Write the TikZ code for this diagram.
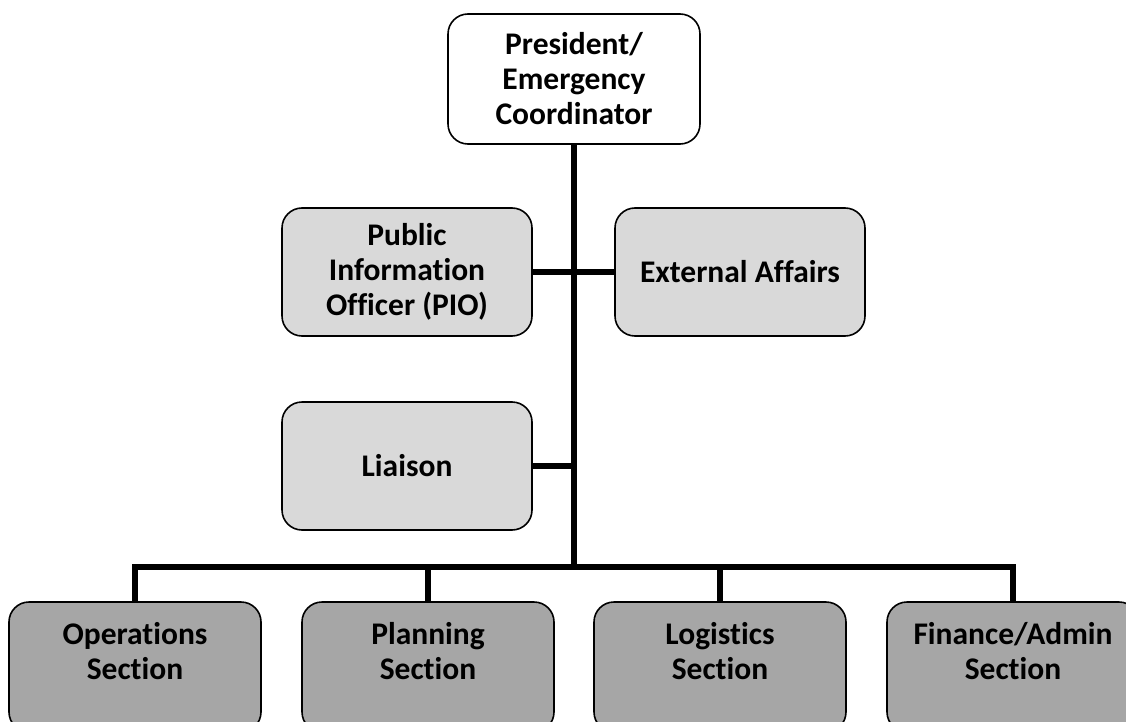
\documentclass[tikz,border=0pt]{standalone}
\usepackage{fontspec}
\setmainfont{Carlito}[Ligatures={NoCommon}]
\begin{document}
\begin{tikzpicture}[x=1pt,y=-1pt,
  box/.style={draw=black, line width=1.6pt, rounded corners=20pt, align=center,
    font=\bfseries\fontsize{31.5}{35}\selectfont, inner sep=0pt},
  topbox/.style={box, fill=white, minimum width=252pt, minimum height=130pt},
  midbox/.style={box, fill=gray!30, minimum width=250pt, minimum height=128pt},
  lowbox/.style={box, fill=gray!70, minimum width=252pt, minimum height=130pt, text depth=33pt},
  conn/.style={draw=black, line width=6pt, line join=miter}]
\useasboundingbox (0,0) rectangle (1126,722);
\node[topbox] (top) at (574,79) {President/\\Emergency\\Coordinator};
\node[midbox] (pio) at (407,272) {Public\\Information\\Officer (PIO)};
\node[midbox] (ext) at (740,272) {External Affairs};
\node[midbox] (lia) at (407,466) {Liaison};
\node[lowbox] (ops) at (135,667) {Operations\\Section};
\node[lowbox] (pla) at (428,667) {Planning\\Section};
\node[lowbox] (log) at (720,667) {Logistics\\Section};
\node[lowbox] (fin) at (1013,667) {Finance/Admin\\Section};
\coordinate (bar) at (574,567);
\draw[conn] (top.south) -- (bar);
\draw[conn] (pio.east) -- (ext.west);
\draw[conn] (lia.east) -- (lia.east -| bar);
\draw[conn] (ops.north) -- (ops.north |- bar) -- (fin.north |- bar) -- (fin.north);
\draw[conn] (pla.north |- bar) -- (pla.north);
\draw[conn] (log.north |- bar) -- (log.north);
\end{tikzpicture}
\end{document}
